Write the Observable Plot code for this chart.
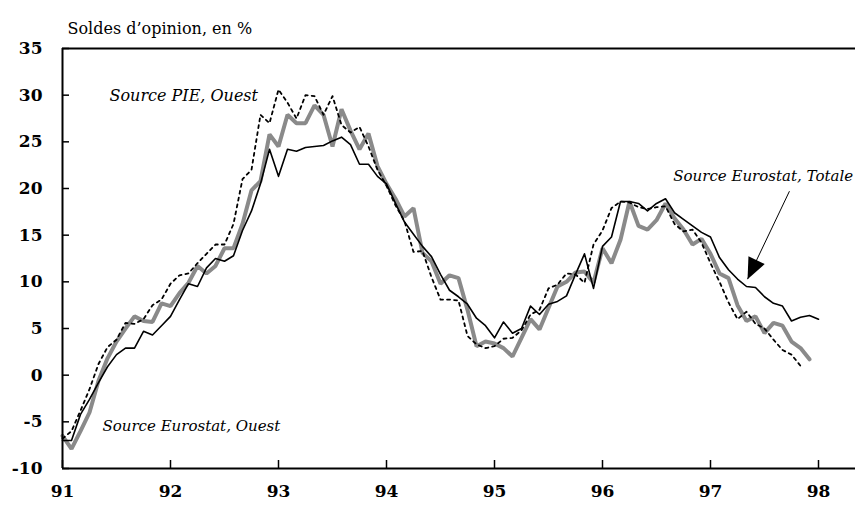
<!DOCTYPE html>
<html><head><meta charset="utf-8">
<script src="https://cdn.jsdelivr.net/npm/d3@7"></script>
<script src="https://cdn.jsdelivr.net/npm/@observablehq/plot@0.6"></script>
<style>body{margin:0;background:#fff} svg{display:block}</style>
</head><body><div id="chart"></div>
<script>
// Monthly series, starting January 1991
const startYear = 91;
const eurostatTotale = [
  -7.0, -7.0, -4.2, -2.6, -0.8, 0.9, 2.2, 2.9, 2.9, 4.7, 4.3, 5.3,
  6.3, 8.1, 9.8, 9.5, 11.5, 12.5, 12.2, 12.8, 15.5, 17.6, 20.5, 24.2,
  21.3, 24.2, 24.0, 24.4, 24.5, 24.6, 25.1, 25.5, 24.7, 22.6, 22.6, 21.3,
  20.5, 18.4, 16.4, 15.1, 13.8, 12.7, 10.8, 9.1, 8.4, 7.6, 6.1, 5.3,
  4.0, 5.7, 4.5, 5.0, 7.4, 6.5, 7.6, 7.9, 8.5, 10.8, 13.0, 9.3,
  13.8, 14.8, 18.6, 18.6, 18.4, 17.6, 18.4, 18.9, 17.4, 16.7, 16.0, 15.3,
  14.8, 12.6, 11.3, 10.3, 9.5, 9.4, 8.4, 7.7, 7.4, 5.8, 6.2, 6.4, 6.0
];
const eurostatOuest = [
  -6.5, -7.9, -6.0, -4.0, -0.6, 1.8, 3.6, 5.0, 6.3, 5.8, 5.7, 7.7,
  7.4, 8.8, 9.9, 11.7, 10.9, 11.7, 13.6, 13.6, 16.2, 19.8, 20.8, 25.8,
  24.5, 27.9, 27.0, 27.0, 28.9, 27.9, 24.5, 28.5, 26.2, 24.2, 25.9, 22.4,
  20.5, 18.9, 17.0, 17.9, 13.1, 12.2, 9.8, 10.7, 10.4, 7.0, 3.1, 3.6,
  3.4, 2.9, 2.0, 4.0, 6.0, 4.9, 7.2, 9.5, 10.0, 11.0, 11.1, 9.9,
  13.6, 12.0, 14.5, 18.6, 16.0, 15.6, 16.6, 18.4, 16.8, 15.6, 14.0, 14.6,
  13.0, 10.9, 10.4, 7.5, 5.8, 6.3, 4.5, 5.6, 5.3, 3.6, 2.9, 1.7
];
const pieOuest = [
  -6.8, -6.0, -3.8, -1.5, 1.2, 3.0, 3.8, 5.6, 5.5, 6.0, 7.5, 8.1,
  9.8, 10.7, 10.9, 12.0, 13.0, 14.0, 14.0, 16.2, 21.0, 22.0, 27.9, 27.0,
  30.6, 29.2, 27.5, 30.0, 29.9, 27.9, 29.9, 26.8, 26.0, 26.6, 24.5, 22.0,
  20.3, 18.2, 16.5, 13.2, 13.3, 10.5, 8.1, 8.1, 8.0, 4.2, 3.3, 2.9,
  3.1, 3.9, 4.0, 4.8, 6.5, 7.0, 9.3, 9.7, 10.9, 10.8, 9.9, 14.0,
  15.5, 17.9, 18.6, 18.5, 18.0, 17.8, 18.0, 18.1, 16.2, 15.4, 15.6, 14.2,
  12.0, 10.0, 7.8, 6.0, 6.8, 5.5, 5.0, 3.8, 2.7, 2.2, 1.0
];
const xTicks = [91, 92, 93, 94, 95, 96, 97, 98];
const yTicks = [-10, -5, 0, 5, 10, 15, 20, 25, 30, 35];
const titleText = "Soldes d\u2019opinion, en %";
const labelTexts = ["Source PIE, Ouest", "Source Eurostat, Totale", "Source Eurostat, Ouest"];
const labelX = [91.435, 98.32, 91.37];
const labelY = [29.9, 21.3, -5.5];
const labelAnchor = ["start", "end", "start"];
const labelSize = [16, 15, 15];
const arrowFrom = {x: 97.731, y: 19.71};
const arrowTo = {x: 97.343, y: 10.29};

const toRows = arr => arr.map((v, i) => ({t: startYear + i / 12, v}));
const labels = labelTexts.map((text, i) => ({text, x: labelX[i], y: labelY[i], anchor: labelAnchor[i], size: labelSize[i]}));

const W = 857, H = 510, ML = 62, MR = 2, MT = 48, MB = 42;
const plotW = W - ML - MR, plotH = H - MT - MB;

const headSymbol = {
  draw(ctx) { ctx.moveTo(0, 0); ctx.lineTo(-9, 21); ctx.lineTo(9, 21); ctx.closePath(); }
};

const textMarks = labels.map(d => Plot.text([d], {x: "x", y: "y", text: "text", textAnchor: d.anchor, fontStyle: "italic", fontSize: d.size}));

const chart = Plot.plot({
  width: W, height: H,
  marginLeft: ML, marginRight: MR, marginTop: MT, marginBottom: MB,
  style: {fontFamily: "DejaVu Serif", fontSize: "17px", color: "#000", background: "#fff"},
  x: {domain: [91, 91 + 7 * plotW / 756], ticks: xTicks},
  y: {domain: [-10, 35], ticks: yTicks},
  marks: [
    Plot.axisX({ticks: xTicks, tickSize: 0, tickPadding: 16, tickFormat: d => String(d), label: null, fontWeight: "bold", fontSize: 17}),
    Plot.axisY({ticks: yTicks, tickSize: 0, tickPadding: 20, tickFormat: d => String(d), label: null, fontWeight: "bold", fontSize: 17}),
    Plot.tickY(yTicks, {y: d => d, stroke: "#000", strokeWidth: 1.5, insetRight: plotW - 7}),
    Plot.tickX(xTicks, {x: d => d, stroke: "#000", strokeWidth: 1.5, insetTop: plotH - 8}),
    Plot.line(toRows(eurostatOuest), {x: "t", y: "v", stroke: "#8a8a8a", strokeWidth: 4, strokeLinejoin: "miter"}),
    Plot.line(toRows(pieOuest), {x: "t", y: "v", stroke: "#000", strokeWidth: 1.8, strokeDasharray: "3,4"}),
    Plot.line(toRows(eurostatTotale), {x: "t", y: "v", stroke: "#000", strokeWidth: 1.6}),
    Plot.ruleX([91], {stroke: "#000", strokeWidth: 2}),
    Plot.ruleY([-10], {stroke: "#000", strokeWidth: 2}),
    Plot.ruleY([35], {stroke: "#000", strokeWidth: 2}),
    Plot.link([0], {x1: () => arrowFrom.x, y1: () => arrowFrom.y, x2: () => arrowTo.x, y2: () => arrowTo.y, stroke: "#000", strokeWidth: 1}),
    Plot.dot([0], {x: () => arrowTo.x, y: () => arrowTo.y, symbol: headSymbol, fill: "#000", stroke: "none", rotate: 205.5, r: 1}),
    ...textMarks,
    Plot.text([titleText], {text: d => d, frameAnchor: "top-left", dx: 5, dy: -26, textAnchor: "start", fontSize: 16})
  ]
});
document.getElementById("chart").appendChild(chart);
</script>
</body></html>
